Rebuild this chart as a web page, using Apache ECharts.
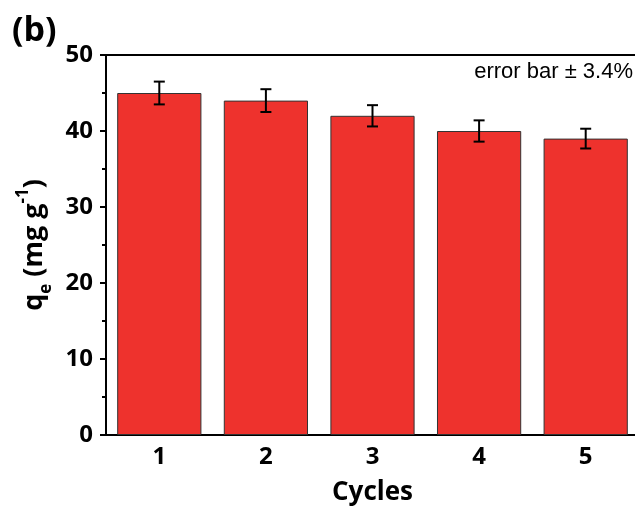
<!DOCTYPE html>
<html>
<head>
<meta charset="utf-8">
<script src="https://cdn.jsdelivr.net/npm/echarts@6/dist/echarts.min.js"></script>
<style>html,body{margin:0;padding:0;background:#fff;}#c{width:635px;height:506px;}</style>
</head>
<body>
<div id="c"></div>
<script>
var categories = ['1', '2', '3', '4', '5'];
var capacity = [45, 44, 42, 40, 39];
var errors = [1.5, 1.5, 1.4, 1.4, 1.3];
var yTicks = [0, 10, 20, 30, 40, 50];

var chart = echarts.init(document.getElementById('c'));
var errData = capacity.map(function (v, i) { return [i, v - errors[i], v + errors[i]]; });
var lab = { color: '#000', fontWeight: 'bold', fontFamily: 'Open Sans' };

chart.setOption({
  animation: false,
  backgroundColor: '#fff',
  grid: { left: 106, top: 55, width: 533, height: 380, outerBoundsMode: 'none', containLabel: false },
  graphic: [
    { type: 'text', left: 12, top: 14, style: { text: '(b)', font: 'bold 34px "Open Sans"', fill: '#000' } },
    { type: 'text', right: 2, top: 61, style: { text: 'error bar \u00b1 3.4%', font: '22px "Liberation Sans"', fill: '#000' } }
  ],
  xAxis: [{
    type: 'category',
    data: categories,
    position: 'bottom',
    axisLine: { lineStyle: { color: '#000', width: 2 } },
    axisTick: { alignWithLabel: true, length: 6, lineStyle: { color: '#000', width: 2 } },
    axisLabel: Object.assign({ fontSize: 24, margin: 10 }, lab),
    name: 'Cycles',
    nameLocation: 'middle',
    nameGap: 45,
    nameTextStyle: Object.assign({ fontSize: 26, verticalAlign: 'top' }, lab)
  }, {
    type: 'category',
    data: categories,
    position: 'bottom',
    axisLine: { show: false },
    axisTick: { length: 4, lineStyle: { color: '#000', width: 2 } },
    axisLabel: { show: false }
  }, {
    type: 'category',
    data: categories,
    position: 'top',
    axisLine: { show: true, lineStyle: { color: '#000', width: 2 } },
    axisTick: { show: false },
    axisLabel: { show: false }
  }],
  yAxis: {
    type: 'value',
    min: yTicks[0],
    max: yTicks[yTicks.length - 1],
    interval: 10,
    axisLine: { show: true, lineStyle: { color: '#000', width: 2 } },
    axisTick: { show: true, length: 6, lineStyle: { color: '#000', width: 2 } },
    minorTick: { show: true, splitNumber: 2, length: 4, lineStyle: { color: '#000', width: 2 } },
    splitLine: { show: false },
    axisLabel: Object.assign({ fontSize: 24, margin: 13 }, lab),
    name: '{a|q}{s|e}{a| (mg g}{p|-1}{a|)}',
    nameLocation: 'middle',
    nameGap: 51,
    nameTextStyle: {
      color: '#000',
      rich: {
        a: { fontSize: 27, fontWeight: 'bold', fontFamily: 'Open Sans', color: '#000', lineHeight: 40, verticalAlign: 'middle' },
        s: { fontSize: 17, fontWeight: 'bold', fontFamily: 'Open Sans', color: '#000', lineHeight: 40, verticalAlign: 'bottom' },
        p: { fontSize: 17, fontWeight: 'bold', fontFamily: 'Open Sans', color: '#000', lineHeight: 40, verticalAlign: 'top' }
      }
    }
  },
  series: [{
    type: 'bar',
    data: capacity,
    barCategoryGap: '21%',
    itemStyle: { color: '#ee322d', borderColor: '#333', borderWidth: 1 }
  }, {
    type: 'custom',
    data: errData,
    z: 5,
    renderItem: function (params, api) {
      var x = api.value(0);
      var lo = api.coord([x, api.value(1)]);
      var hi = api.coord([x, api.value(2)]);
      var hw = 5.5;
      var st = { stroke: '#000', lineWidth: 2 };
      return {
        type: 'group',
        children: [
          { type: 'line', shape: { x1: lo[0], y1: lo[1], x2: hi[0], y2: hi[1] }, style: st },
          { type: 'line', shape: { x1: lo[0] - hw, y1: lo[1], x2: lo[0] + hw, y2: lo[1] }, style: st },
          { type: 'line', shape: { x1: hi[0] - hw, y1: hi[1], x2: hi[0] + hw, y2: hi[1] }, style: st }
        ]
      };
    }
  }]
});
</script>
</body>
</html>
